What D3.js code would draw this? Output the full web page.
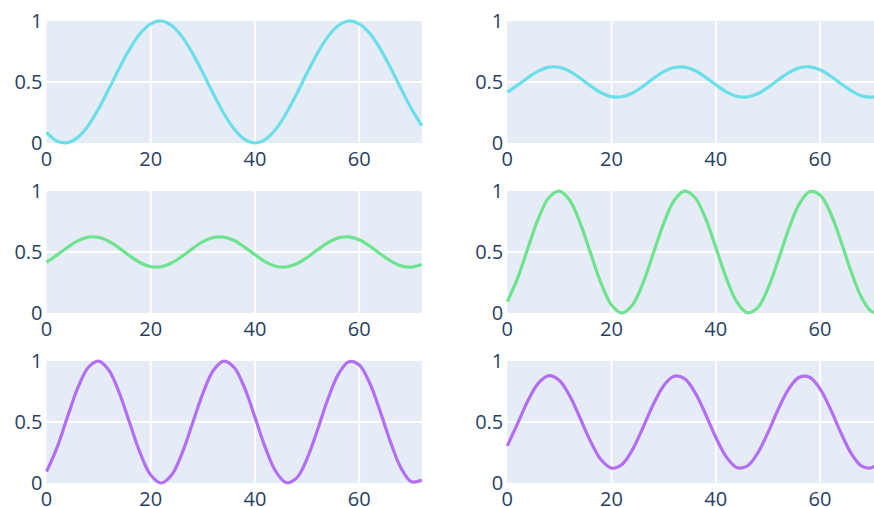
<!DOCTYPE html>
<html>
<head>
<meta charset="utf-8">
<script src="https://cdn.jsdelivr.net/npm/d3@7"></script>
<style>
  html, body { margin: 0; padding: 0; background: #fff; overflow: hidden; }
  svg { display: block; }
</style>
</head>
<body>
<svg id="chart" width="874" height="507"></svg>
<script>
// ---- data ----
const xValues = [0,2,4,6,8,10,12,14,16,18,20,22,24,26,28,30,32,34,36,38,40,42,44,46,48,50,52,54,56,58,60,62,64,66,68,70,72];

const seriesA = [0.088,0.017,0.002,0.046,0.142,0.282,0.446,0.617,0.774,0.899,0.977,1.000,0.963,0.872,0.737,0.575,0.404,0.244,0.114,0.029,0.000,0.029,0.114,0.244,0.404,0.575,0.737,0.872,0.963,1.000,0.977,0.899,0.774,0.617,0.446,0.282,0.143];

const seriesB = [0.417,0.474,0.537,0.591,0.622,0.620,0.587,0.531,0.467,0.412,0.380,0.379,0.410,0.464,0.528,0.585,0.619,0.622,0.594,0.540,0.477,0.419,0.383,0.377,0.403,0.455,0.518,0.577,0.616,0.624,0.600,0.549,0.486,0.427,0.386,0.376,0.397];

const seriesC = [0.093,0.288,0.538,0.779,0.947,0.999,0.922,0.735,0.487,0.243,0.065,0.000,0.065,0.243,0.487,0.735,0.922,0.999,0.947,0.779,0.538,0.288,0.093,0.003,0.042,0.201,0.437,0.689,0.892,0.994,0.968,0.820,0.589,0.335,0.124,0.010,0.024];

const seriesD = [0.304,0.490,0.678,0.820,0.880,0.840,0.712,0.529,0.339,0.190,0.122,0.152,0.272,0.451,0.643,0.798,0.875,0.855,0.743,0.568,0.375,0.215,0.128,0.138,0.242,0.413,0.607,0.772,0.867,0.867,0.772,0.606,0.412,0.241,0.138,0.128,0.215];

const xTicks = [0, 20, 40, 60];
const yTicks = [0, 0.5, 1];
const yTickLabels = ["0", "0.5", "1"];

// panels: row, col, series, color
const panels = [
  { row: 0, col: 0, values: seriesA, color: "#6adfea" },
  { row: 0, col: 1, values: seriesB, color: "#6adfea" },
  { row: 1, col: 0, values: seriesB, color: "#6ee38f" },
  { row: 1, col: 1, values: seriesC, color: "#6ee38f" },
  { row: 2, col: 0, values: seriesC, color: "#b36ff0" },
  { row: 2, col: 1, values: seriesD, color: "#b36ff0" }
];

// ---- layout ----
const colLeft = [46.5, 507.3];
const plotW = 375.3;
const rowTop = [21, 191, 361];
const plotH = 122;

const svg = d3.select("#chart");
const font = "'Open Sans', verdana, arial, sans-serif";
const textColor = "#2a3f5f";

panels.forEach(p => {
  const x0 = colLeft[p.col], y0 = rowTop[p.row];
  const x = d3.scaleLinear().domain([0, 72]).range([x0, x0 + plotW]);
  const y = d3.scaleLinear().domain([0, 1]).range([y0 + plotH, y0]);

  const g = svg.append("g");
  g.append("rect")
    .attr("x", x0).attr("y", y0)
    .attr("width", plotW).attr("height", plotH)
    .attr("fill", "#e5ecf6");

  // grid
  g.selectAll("line.vx").data(xTicks.filter(t => t > 0)).enter().append("line")
    .attr("x1", d => x(d)).attr("x2", d => x(d))
    .attr("y1", y0).attr("y2", y0 + plotH)
    .attr("stroke", "#fff").attr("stroke-width", 1.8);
  g.selectAll("line.hy").data(yTicks.filter(t => t > 0 && t < 1)).enter().append("line")
    .attr("x1", x0).attr("x2", x0 + plotW)
    .attr("y1", d => y(d)).attr("y2", d => y(d))
    .attr("stroke", "#fff").attr("stroke-width", 1.8);

  // y tick labels
  g.selectAll("text.yt").data(yTicks).enter().append("text")
    .attr("x", x0 - 4).attr("y", d => y(d))
    .attr("dy", "0.36em")
    .attr("text-anchor", "end")
    .attr("font-family", font).attr("font-size", 20)
    .attr("fill", textColor)
    .text((d, i) => yTickLabels[i]);

  // x tick labels
  g.selectAll("text.xt").data(xTicks).enter().append("text")
    .attr("x", d => x(d)).attr("y", y0 + plotH + 23)
    .attr("text-anchor", "middle")
    .attr("font-family", font).attr("font-size", 20)
    .attr("fill", textColor)
    .text(d => d);

  // line
  const line = d3.line()
    .x((d, i) => x(xValues[i]))
    .y(d => y(d))
    .curve(d3.curveCatmullRom.alpha(0.5));
  g.append("path")
    .datum(p.values)
    .attr("d", line)
    .attr("fill", "none")
    .attr("stroke", p.color)
    .attr("stroke-width", 3.2)
    .attr("stroke-linejoin", "round");
});
</script>
</body>
</html>
